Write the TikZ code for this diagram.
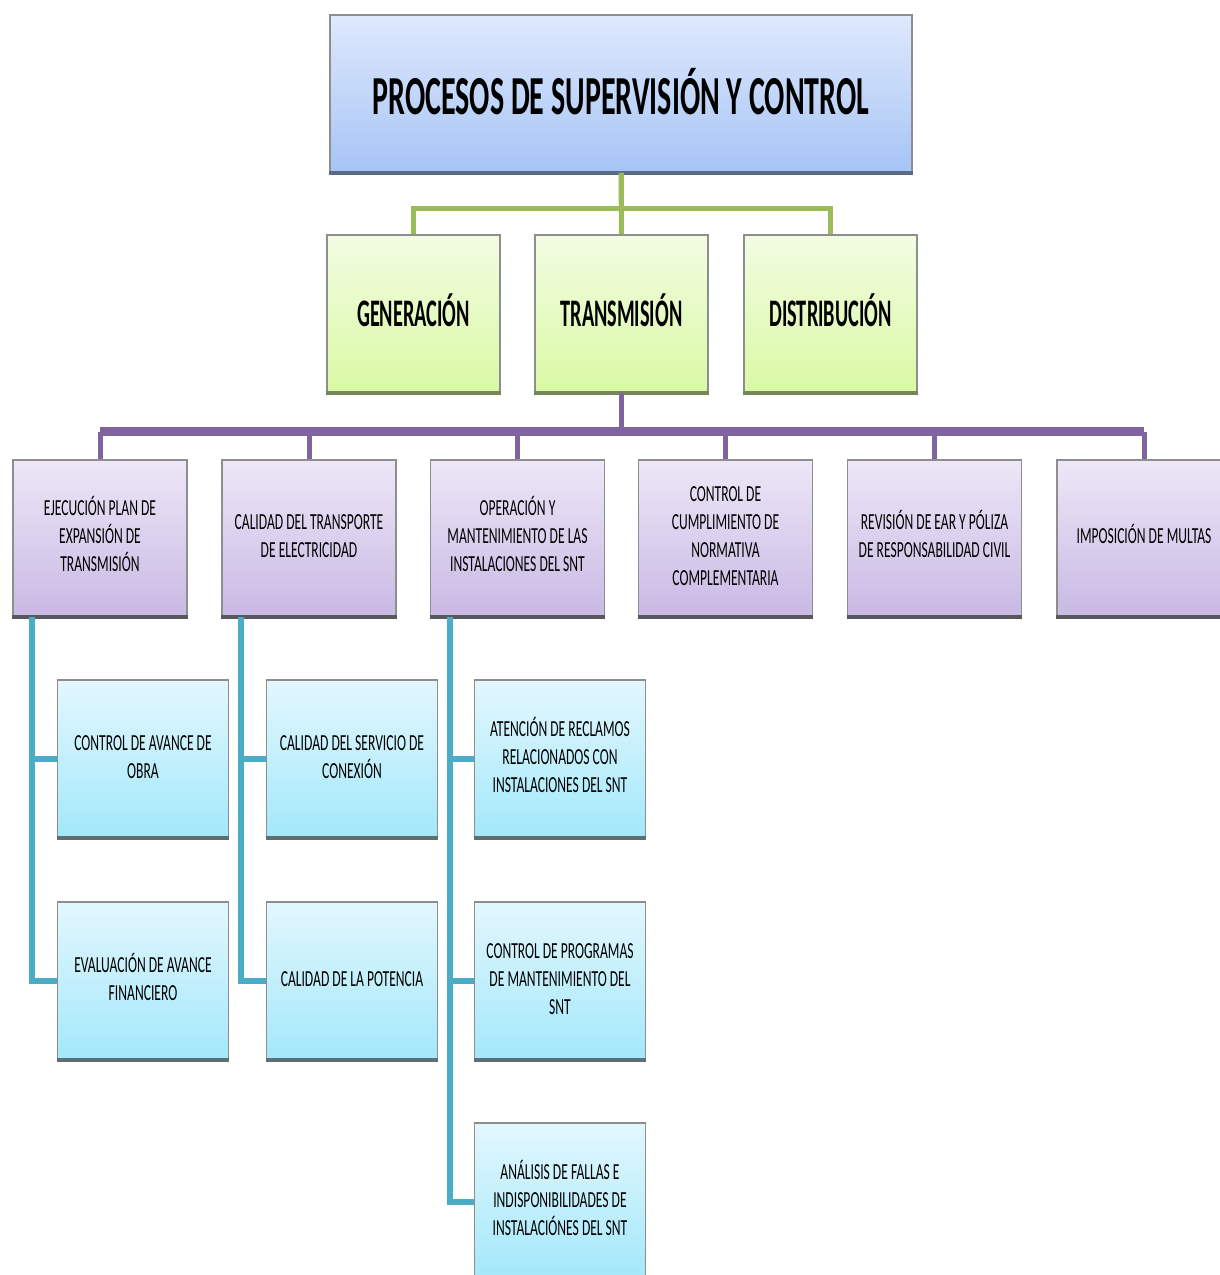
\documentclass[tikz,border=0pt]{standalone}
\usepackage{fontspec}
\setmainfont{Carlito}
\usetikzlibrary{calc}

% fills
\definecolor{titletop}{HTML}{DEE9FC}
\definecolor{titlebot}{HTML}{A7C4F6}
\definecolor{areatop}{HTML}{F3FCE3}
\definecolor{areabot}{HTML}{D9F9A4}
\definecolor{proctop}{HTML}{EDE7F7}
\definecolor{procbot}{HTML}{C9B9E4}
\definecolor{subtop}{HTML}{E3F7FD}
\definecolor{subbot}{HTML}{A3E8FB}
% borders and base edges
\definecolor{boxedge}{HTML}{8E8E8E}
\definecolor{titlebase}{HTML}{5B6B86}
\definecolor{areabase}{HTML}{76865A}
\definecolor{procbase}{HTML}{58585C}
\definecolor{subbase}{HTML}{5F6E70}
% connectors
\definecolor{linkgreen}{HTML}{9BBB59}
\definecolor{linkpurple}{HTML}{8064A2}
\definecolor{linkblue}{HTML}{4BACC6}

% horizontally condensed, centred block of lines
\newcommand{\sqz}[2]{\scalebox{#1}[1]{\begin{tabular}{@{}c@{}}#2\end{tabular}}}
% move a label down without changing its reported size
\newcommand{\lowerby}[2]{\raisebox{-#1}[\height][\depth]{#2}}

\tikzset{
  box/.style={draw=boxedge, line width=1.5pt, inner sep=0pt, align=center,
    minimum height=157pt, text=black},
  titlebox/.style={box, top color=titletop, bottom color=titlebot,
    minimum width=582pt, font=\fontsize{55}{60}\selectfont\bfseries},
  areabox/.style={box, top color=areatop, bottom color=areabot,
    minimum width=173pt, font=\fontsize{39}{44}\selectfont\bfseries},
  procbox/.style={box, top color=proctop, bottom color=procbot,
    minimum width=174pt, minimum height=156pt, font=\fontsize{23}{28}\selectfont},
  subbox/.style={box, top color=subtop, bottom color=subbot,
    minimum width=171pt, font=\fontsize{23}{28}\selectfont},
  baseedge/.style={line width=4pt},
  greenlink/.style={draw=linkgreen, line width=5pt},
  purplelink/.style={draw=linkpurple, line width=5pt},
  purplebar/.style={draw=linkpurple, line width=9pt},
  bluelink/.style={draw=linkblue, line width=6pt},
}

\begin{document}
\begin{tikzpicture}[x=1pt,y=-1pt]
\useasboundingbox[fill=white] (0,0) rectangle (1220,1275);

% root
\node[titlebox] (root) at (621,93.5)
  {\lowerby{7pt}{\sqz{0.545}{PROCESOS DE SUPERVISIÓN Y CONTROL}}};

% areas
\node[areabox] (gen) at (413.5,313.5) {\lowerby{3pt}{\sqz{0.52}{GENERACIÓN}}};
\node[areabox] (tra) at (621.5,313.5) {\lowerby{3pt}{\sqz{0.52}{TRANSMISIÓN}}};
\node[areabox] (dis) at (830.5,313.5) {\lowerby{3pt}{\sqz{0.52}{DISTRIBUCIÓN}}};

% transmission processes
\node[procbox] (p1) at (100,538)   {\sqz{0.59}{EJECUCIÓN PLAN DE\\EXPANSIÓN DE\\TRANSMISIÓN}};
\node[procbox] (p2) at (309,538)   {\sqz{0.59}{CALIDAD DEL TRANSPORTE\\DE ELECTRICIDAD}};
\node[procbox] (p3) at (517.5,538) {\sqz{0.59}{OPERACIÓN Y\\MANTENIMIENTO DE LAS\\INSTALACIONES DEL SNT}};
\node[procbox] (p4) at (725.5,538) {\sqz{0.59}{CONTROL DE\\CUMPLIMIENTO DE\\NORMATIVA\\COMPLEMENTARIA}};
\node[procbox] (p5) at (934.5,538) {\sqz{0.59}{REVISIÓN DE EAR Y PÓLIZA\\DE RESPONSABILIDAD CIVIL}};
\node[procbox] (p6) at (1144,538)  {\sqz{0.59}{IMPOSICIÓN DE MULTAS}};

% sub-processes
\node[subbox] (c11) at (143,758.5)   {\sqz{0.59}{CONTROL DE AVANCE DE\\OBRA}};
\node[subbox] (c12) at (143,980.5)   {\sqz{0.59}{EVALUACIÓN DE AVANCE\\FINANCIERO}};
\node[subbox] (c21) at (352,758.5)   {\sqz{0.59}{CALIDAD DEL SERVICIO DE\\CONEXIÓN}};
\node[subbox] (c22) at (352,980.5)   {\sqz{0.59}{CALIDAD DE LA POTENCIA}};
\node[subbox] (c31) at (560,758.5)   {\sqz{0.59}{ATENCIÓN DE RECLAMOS\\RELACIONADOS CON\\INSTALACIONES DEL SNT}};
\node[subbox] (c32) at (560,980.5)   {\sqz{0.59}{CONTROL DE PROGRAMAS\\DE MANTENIMIENTO DEL\\SNT}};
\node[subbox] (c33) at (560,1201.5)  {\sqz{0.59}{ANÁLISIS DE FALLAS E\\INDISPONIBILIDADES DE\\INSTALACIÓNES DEL SNT}};

% darker base edge under each box
\draw[baseedge, titlebase] (root.south west) -- (root.south east);
\foreach \n in {gen,tra,dis}
  \draw[baseedge, areabase] (\n.south west) -- (\n.south east);
\foreach \n in {p1,p2,p3,p4,p5,p6}
  \draw[baseedge, procbase] (\n.south west) -- (\n.south east);
\foreach \n in {c11,c12,c21,c22,c31,c32,c33}
  \draw[baseedge, subbase] (\n.south west) -- (\n.south east);

% root -> areas
\draw[greenlink] (root.south) -- (tra.north);
\draw[greenlink] (root.south) -- ++(0,36) -| (gen.north);
\draw[greenlink] (root.south) -- ++(0,36) -| (dis.north);

% transmission -> processes
\coordinate (pbar) at ($(tra.south)+(0,39)$);
\draw[purplebar] (pbar -| p1.north) -- (pbar -| p6.north);
\draw[purplelink] (tra.south) -- (pbar);
\foreach \n in {p1,p2,p3,p4,p5,p6}
  \draw[purplelink] (pbar -| \n.north) -- (\n.north);

% processes -> sub-processes
\draw[bluelink] ($(p1.south west)+(20,0)$) |- (c11.west);
\draw[bluelink] ($(p1.south west)+(20,0)$) |- (c12.west);
\draw[bluelink] ($(p2.south west)+(20,0)$) |- (c21.west);
\draw[bluelink] ($(p2.south west)+(20,0)$) |- (c22.west);
\draw[bluelink] ($(p3.south west)+(20,0)$) |- (c31.west);
\draw[bluelink] ($(p3.south west)+(20,0)$) |- (c32.west);
\draw[bluelink] ($(p3.south west)+(20,0)$) |- (c33.west);
\end{tikzpicture}
\end{document}
